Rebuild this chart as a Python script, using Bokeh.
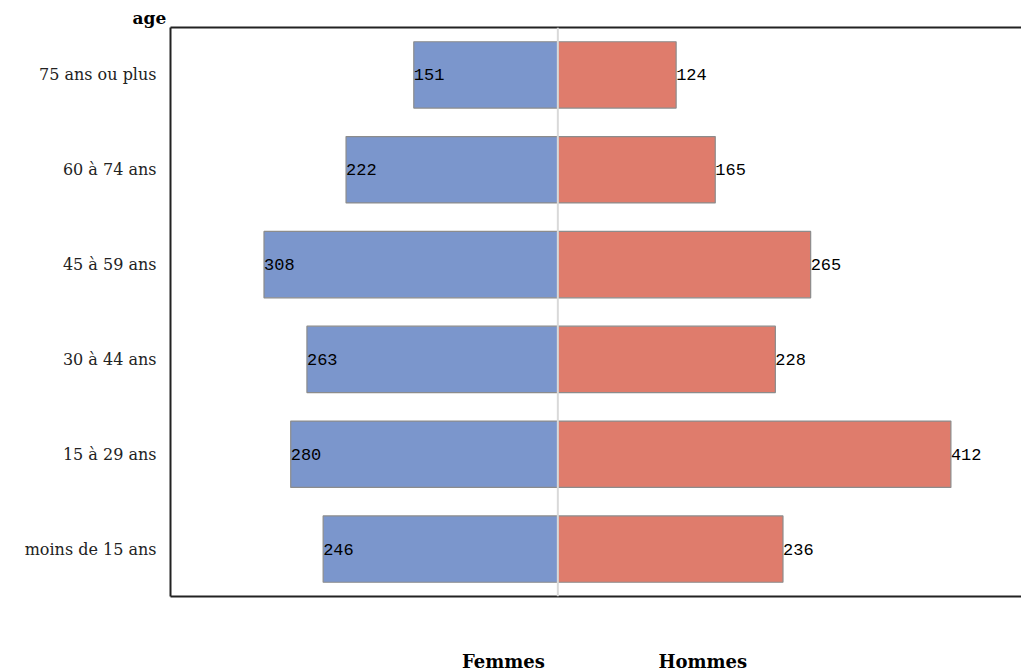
from bokeh.plotting import figure
from bokeh.models import ColumnDataSource, Range1d, FactorRange, LinearAxis, FixedTicker, Span
from bokeh.core.properties import value
from bokeh.embed import file_html
from bokeh.resources import INLINE

ages = ["moins de 15 ans", "15 à 29 ans", "30 à 44 ans", "45 à 59 ans", "60 à 74 ans", "75 ans ou plus"]
femmes = [246, 280, 263, 308, 222, 151]
hommes = [236, 412, 228, 265, 165, 124]
series = ["Femmes", "Hommes"]
series_pos = [-57, 152]

src = ColumnDataSource(dict(
    age=ages,
    f_left=[-v for v in femmes],
    f=femmes,
    h=hommes,
    f_txt=[str(v) for v in femmes],
    h_txt=[str(v) for v in hommes],
))

FW, FH = 851, 569
BL, BT, BB = 170, 27, 70

p = figure(frame_width=FW, frame_height=FH, output_backend="svg", toolbar_location=None,
           y_range=FactorRange(*ages, range_padding=0), x_range=Range1d(-406, 486),
           x_axis_type=None, min_border_left=BL, min_border_top=BT,
           min_border_bottom=BB, min_border_right=0, title="age")
p.outline_line_color = None
p.xgrid.visible = False
p.ygrid.visible = False

p.title.align = "left"
p.title.offset = -38
p.title.standoff = 0
p.title.text_font = "DejaVu Serif"
p.title.text_font_style = "bold"
p.title.text_font_size = "17px"
p.title.text_color = "black"

p.hbar(y="age", left="f_left", right=0, height=0.7, source=src,
       fill_color="#7b96cc", line_color="#8c8c8c", line_width=1.2)
p.hbar(y="age", left=0, right="h", height=0.7, source=src,
       fill_color="#df7c6c", line_color="#8c8c8c", line_width=1.2)

p.add_layout(Span(location=0, dimension="height", line_color="#d9d9d9", line_width=2, level="overlay"))

p.text(x="f_left", y="age", text="f_txt", source=src, text_font=value("Liberation Mono"),
       text_font_size="17px", text_align="left", text_baseline="middle", text_color="black")
p.text(x="h", y="age", text="h_txt", source=src, text_font=value("Liberation Mono"),
       text_font_size="17px", text_align="left", text_baseline="middle", text_color="black")

yax = p.yaxis[0]
yax.axis_line_color = "#222222"
yax.axis_line_width = 2
yax.major_tick_line_color = None
yax.minor_tick_line_color = None
yax.major_label_text_font = "DejaVu Serif"
yax.major_label_text_font_size = "16px"
yax.major_label_text_color = "#222222"
yax.major_label_standoff = 8

bx = LinearAxis(ticker=FixedTicker(ticks=series_pos),
                major_label_overrides={series_pos[i]: series[i] for i in range(2)})
bx.axis_line_color = "#222222"
bx.axis_line_width = 2
bx.major_tick_line_color = None
bx.minor_tick_line_color = None
bx.major_label_standoff = 48
bx.major_label_text_font = "DejaVu Serif"
bx.major_label_text_font_style = "bold"
bx.major_label_text_font_size = "18px"
bx.major_label_text_color = "black"
p.add_layout(bx, "below")

tx = LinearAxis(ticker=FixedTicker(ticks=[]))
tx.axis_line_color = "#222222"
tx.axis_line_width = 2
tx.major_tick_line_color = None
tx.minor_tick_line_color = None
tx.major_label_text_font_size = "0px"
p.add_layout(tx, "above")

open("out.html", "w").write(file_html(p, INLINE))
